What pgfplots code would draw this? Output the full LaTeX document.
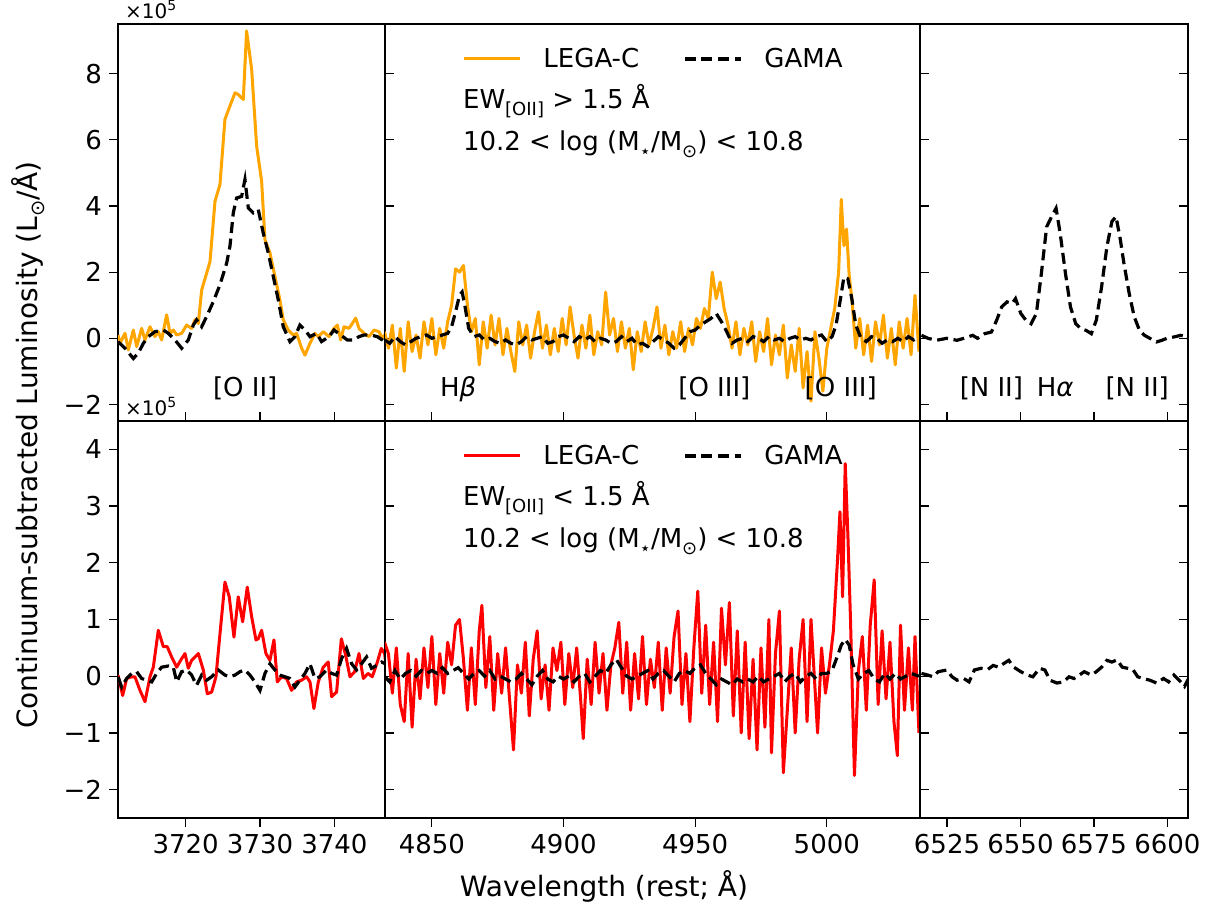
\documentclass[border=0pt]{standalone}
\usepackage{pgfplots}
\pgfplotsset{compat=1.18}
\usepackage{fontspec}
\setmainfont{DejaVu Sans}
\newcommand\f{\fontsize{13pt}{15.6pt}\selectfont}
\newcommand\fl{\fontsize{14pt}{16.8pt}\selectfont}
\newcommand\fs{\fontsize{10pt}{12pt}\selectfont}
\newcommand\sub[1]{\raisebox{-0.28em}{\fontsize{9pt}{10pt}\selectfont #1}}
\newcommand\subl[1]{\raisebox{-0.28em}{\fontsize{9.7pt}{11pt}\selectfont #1}}
\definecolor{mplorange}{HTML}{FFA500}
\pgfplotsset{
  panel/.style={
    scale only axis, anchor=north west, height=198.5pt,
    axis line style={line width=0.6pt},
    every tick/.style={black, line width=0.6pt},
    major tick length=4.5pt,
    tick label style={font=\f},
    /pgf/number format/assume math mode=true,
    /pgf/number format/1000 sep={},
    clip mode=individual,
    legend image code/.code={\draw[##1] (0pt,0pt) -- (28pt,0pt);},
  },
  rowA/.style={ymin=-2.5, ymax=9.5, ytick={-2,0,2,4,6,8},
    xtick pos=left, xtick align=inside, xticklabels={}},
  rowB/.style={ymin=-2.5, ymax=4.5, ytick={-2,-1,0,1,2,3,4},
    xtick pos=left, xtick align=outside},
  colL/.style={xmin=3710.9, xmax=3746.8, xtick={3720,3730,3740}, width=133.5pt,
    ytick pos=left, ytick align=outside},
  colM/.style={xmin=4832.2, xmax=5035.4, xtick={4850,4900,4950,5000}, width=267.5pt,
    ytick pos=left, ytick align=inside, yticklabels={}},
  colR/.style={xmin=6515.8, xmax=6607, xtick={6525,6550,6575,6600}, width=134pt,
    ytick pos=both, ytick align=inside, yticklabels={}},
  lega/.style={mplorange, line width=1.5pt, line join=round},
  legr/.style={red, line width=1.5pt, line join=round},
  gama/.style={black, line width=1.6pt, dash pattern=on 5.5pt off 2.8pt},
  leg/.style={legend style={at={(0.144,0.912)}, anchor=west, draw=none, fill=none,
    font=\f, inner sep=0pt, nodes={inner sep=0pt},
    /tikz/every odd column/.append style={column sep=11pt},
    /tikz/every even column/.append style={column sep=22pt}},
    legend columns=2},
}
\begin{document}
\begin{tikzpicture}
\path[use as bounding box] (0,0) rectangle (602.5pt,-455.5pt);
% ---------------- top left
\begin{axis}[panel, rowA, colL, at={(59pt,-12pt)}, yticklabels={−2,0,2,4,6,8}]
\addplot[lega] coordinates {(3710.9,0.1)(3711.17,-0.15)(3711.84,0.15)(3712.29,-0.35)(3712.96,0.25)(3713.41,-0.25)(3714.08,0.30)(3714.53,-0.05)(3715.20,0.35)(3715.87,0.05)(3716.32,0.20)(3716.77,-0.05)(3717.44,0.71)(3717.89,0.15)(3718.34,0.25)(3718.79,0.10)(3719.46,0.15)(3720.13,0.40)(3720.80,0.30)(3721.25,0.56)(3721.70,0.45)(3722.15,1.46)(3722.82,1.97)(3723.27,2.32)(3723.94,4.14)(3724.61,4.65)(3725.28,6.62)(3725.95,7.02)(3726.63,7.42)(3727.07,7.37)(3727.75,7.22)(3728.19,9.29)(3728.87,8.13)(3729.54,5.81)(3730.21,4.75)(3730.66,2.98)(3731.33,2.58)(3732.00,1.87)(3732.67,1.16)(3733.12,0.56)(3733.79,0.25)(3734.47,0.10)(3734.91,0.15)(3735.59,-0.30)(3736.04,-0.51)(3736.71,-0.15)(3737.38,0.15)(3737.83,0.05)(3738.50,0.20)(3739.27,0.05)(3739.94,0.30)(3740.39,0.40)(3740.84,-0.05)(3741.29,0.35)(3741.96,0.30)(3742.41,0.45)(3742.86,0.61)(3743.30,0.30)(3743.98,0.15)(3744.65,0.05)(3745.32,0.25)(3745.99,0.20)(3746.44,0.00)(3746.93,0.15)};
\addplot[gama] coordinates {(3710.9,-0.10)(3711.84,-0.30)(3712.96,-0.61)(3713.63,-0.45)(3714.31,-0.15)(3714.98,0.05)(3715.87,0.20)(3716.99,0.25)(3717.67,0.15)(3718.56,-0.05)(3719.46,-0.30)(3720.35,-0.05)(3721.03,0.40)(3721.47,0.56)(3722.15,0.35)(3722.82,0.66)(3723.72,1.11)(3724.61,1.62)(3725.51,2.27)(3725.95,2.78)(3726.40,3.79)(3726.85,4.24)(3727.52,4.29)(3727.97,4.80)(3728.42,3.94)(3729.09,3.79)(3729.76,3.89)(3730.43,3.18)(3731.11,2.58)(3731.78,1.87)(3732.45,1.16)(3733.12,0.35)(3734.02,-0.10)(3734.69,0.05)(3735.36,0.40)(3736.04,0.25)(3736.71,0.05)(3737.60,0.15)(3738.27,-0.10)(3739.27,0.05)(3739.94,0.25)(3740.84,0.10)(3741.73,-0.05)(3742.63,-0.05)(3743.30,0.05)(3743.98,0.10)(3744.87,0.10)(3745.77,0.05)(3746.44,-0.05)(3746.93,-0.15)};
\node[font=\f, anchor=base] at (axis cs:3728,-1.75) {[O II]};
\node[font=\fs, anchor=base west, yshift=3pt] at (rel axis cs:0,1) {×10\textsuperscript{5}};
\end{axis}
% ---------------- top middle
\begin{axis}[panel, rowA, colM, leg, at={(192.5pt,-12pt)}]
\addplot[lega] coordinates {(4832.0,0.2)(4833.5,-0.3)(4835.0,0.4)(4836.5,-0.9)(4838.0,0.3)(4839.5,-1.0)(4841.0,0.5)(4842.5,-0.4)(4844.0,0.1)(4845.5,-0.6)(4847.0,0.5)(4848.5,-0.2)(4850.0,0.6)(4851.5,-0.5)(4853.0,0.3)(4854.5,-0.3)(4856.0,0.5)(4857.5,1.0)(4859.0,2.1)(4860.5,2.0)(4862.0,2.2)(4863.5,1.0)(4865.0,0.2)(4866.5,0.6)(4868.0,-0.8)(4869.5,0.5)(4871.0,-0.3)(4872.5,0.7)(4874.0,-0.2)(4875.5,0.6)(4877.0,-0.5)(4878.5,0.3)(4880.0,-0.4)(4881.5,-1.0)(4883.0,0.5)(4884.5,-0.2)(4886.0,0.4)(4887.5,-0.6)(4889.0,0.2)(4890.5,0.8)(4892.0,-0.3)(4893.5,0.4)(4895.0,-0.5)(4896.5,0.3)(4898.0,-0.4)(4899.5,0.6)(4901.0,-0.2)(4902.5,0.95)(4904.0,0.1)(4905.5,-0.6)(4907.0,0.4)(4908.5,-0.3)(4910.0,0.7)(4911.5,-0.5)(4913.0,0.2)(4914.5,-0.2)(4916.0,1.4)(4917.5,0.1)(4919.0,0.6)(4920.5,-0.4)(4922.0,0.5)(4923.5,-0.3)(4925.0,0.3)(4926.5,-0.95)(4928.0,0.2)(4929.5,-0.4)(4931.0,0.5)(4932.5,-0.2)(4934.0,0.3)(4935.5,0.95)(4937.0,-0.3)(4938.5,0.4)(4940.0,-0.5)(4941.5,0.2)(4943.0,-0.3)(4944.5,0.5)(4946.0,-0.4)(4947.5,0.3)(4949.0,-0.2)(4950.5,0.6)(4952.0,0.3)(4953.5,0.9)(4955.0,0.6)(4956.5,2.0)(4958.0,1.2)(4959.5,1.7)(4961.0,0.9)(4962.5,0.4)(4964.0,-0.3)(4965.5,0.5)(4967.0,-0.5)(4968.5,0.3)(4970.0,-0.2)(4971.5,0.5)(4973.0,-0.7)(4974.5,0.2)(4976.0,-0.4)(4977.5,0.6)(4979.0,-0.8)(4980.5,0.1)(4982.0,-0.5)(4983.5,0.4)(4985.0,-1.2)(4986.5,-0.2)(4988.0,-1.0)(4989.5,0.3)(4991.0,-1.5)(4992.5,-0.4)(4994.0,-1.9)(4995.5,0.2)(4997.0,-0.6)(4998.5,-1.6)(5000.0,-0.3)(5001.5,0.3)(5003.0,0.9)(5004.5,2.0)(5005.5,4.2)(5006.5,2.8)(5007.5,3.3)(5008.5,1.9)(5009.5,1.2)(5011.0,-0.3)(5012.5,0.6)(5014.0,-0.5)(5015.5,0.4)(5017.0,-0.7)(5018.5,0.5)(5020.0,-0.2)(5021.5,0.7)(5023.0,-0.6)(5024.5,0.3)(5026.0,-0.8)(5027.5,0.5)(5029.0,-0.3)(5030.5,0.6)(5032.0,-0.5)(5033.5,1.3)(5035.0,-0.4)};
\addlegendentry{LEGA-C}
\addplot[gama] coordinates {(4832,-0.05)(4834,-0.15)(4836,0.05)(4838,-0.1)(4840,-0.2)(4842,-0.1)(4844,0.0)(4846,0.05)(4848,0.1)(4850,0.0)(4852,0.05)(4854,0.1)(4856,0.15)(4857.5,0.35)(4859,0.8)(4860.5,1.3)(4861.5,1.4)(4862.5,1.0)(4864,0.3)(4866,0.05)(4868,0.1)(4870,-0.05)(4872,0.0)(4874,-0.1)(4876,-0.15)(4878,-0.05)(4880,-0.15)(4882,-0.2)(4884,-0.1)(4886,0.05)(4888,-0.05)(4890,0.0)(4892,0.05)(4894,-0.15)(4896,-0.1)(4898,0.05)(4900,0.1)(4902,0.0)(4904,-0.1)(4906,0.05)(4908,-0.05)(4910,0.05)(4912,-0.1)(4914,0.0)(4916,-0.05)(4918,-0.15)(4920,-0.1)(4922,0.05)(4924,-0.1)(4926,0.0)(4928,-0.2)(4930,-0.15)(4932,-0.25)(4934,-0.1)(4936,0.05)(4938,-0.05)(4940,-0.15)(4942,-0.3)(4944,-0.2)(4946,0.0)(4948,0.2)(4950,0.25)(4952,0.4)(4954,0.5)(4956,0.6)(4958,0.75)(4960,0.5)(4962,0.2)(4964,-0.15)(4966,-0.05)(4968,0.0)(4970,-0.1)(4972,0.05)(4974,0.0)(4976,-0.1)(4978,0.05)(4980,-0.05)(4982,0.0)(4984,-0.1)(4986,0.0)(4988,0.05)(4990,-0.05)(4992,0.0)(4994,-0.05)(4996,0.05)(4998,0.1)(5000,-0.1)(5002,0.05)(5003.5,0.4)(5005,1.1)(5006.5,1.85)(5008,1.8)(5009.5,1.2)(5011,0.4)(5013,0.0)(5015,-0.1)(5017,0.05)(5019,0.0)(5021,-0.15)(5023,-0.05)(5025,-0.1)(5027,0.0)(5029,-0.1)(5031,0.05)(5033,-0.05)(5035,0.05)};
\addlegendentry{GAMA}
\node[font=\f, anchor=base west] at (rel axis cs:0.1327,0.788) {EW\sub{[OII]} > 1.5 Å};
\node[font=\f, anchor=base west] at (rel axis cs:0.1327,0.6826) {10.2 < log (M\sub{⋆}/M\sub{⊙}) < 10.8};
\node[font=\f, anchor=base] at (axis cs:4860,-1.75) {H\textit{β}};
\node[font=\f, anchor=base] at (axis cs:4957.3,-1.75) {[O III]};
\node[font=\f, anchor=base] at (axis cs:5005.3,-1.75) {[O III]};
\end{axis}
% ---------------- top right
\begin{axis}[panel, rowA, colR, at={(460pt,-12pt)}]
\addplot[gama] coordinates {(6516.3,0.09)(6518.5,0)(6521.4,-0.06)(6524.9,0)(6528.4,-0.06)(6530.7,0)(6533.7,0.09)(6535.4,0)(6537.8,0.14)(6540.1,0.19)(6541.9,0.55)(6543.6,0.95)(6545.4,1.10)(6547.1,1.05)(6548.3,1.20)(6550.1,0.75)(6551.8,0.55)(6553.6,0.44)(6555.4,0.75)(6557.1,1.96)(6558.9,3.37)(6560.6,3.68)(6562.1,3.93)(6563.5,3.17)(6565.3,1.96)(6567.0,0.95)(6568.8,0.44)(6570.6,0.29)(6572.3,0.24)(6574.1,0.14)(6575.8,0.55)(6577.6,1.56)(6579.4,2.77)(6581.1,3.53)(6582.5,3.68)(6584.0,2.97)(6585.2,2.26)(6587.0,1.35)(6588.7,0.65)(6590.5,0.24)(6592.2,0.09)(6594.0,0)(6596.3,-0.11)(6598.1,-0.06)(6599.8,0)(6602.2,0.04)(6604.5,0.09)(6606.9,0.04)(6607.5,-0.11)};
\node[font=\f, anchor=base] at (axis cs:6540.1,-1.75) {[N II]};
\node[font=\f, anchor=base] at (axis cs:6561.8,-1.75) {H\textit{α}};
\node[font=\f, anchor=base] at (axis cs:6589.7,-1.75) {[N II]};
\end{axis}
% ---------------- bottom left
\begin{axis}[panel, rowB, colL, at={(59pt,-210.5pt)}, yticklabels={−2,−1,0,1,2,3,4}, xticklabels={3720,3730,3740}]
\addplot[legr] coordinates {(3710.90,0.02)(3711.53,-0.34)(3712.06,-0.04)(3712.74,-0.01)(3713.18,-0.01)(3713.86,-0.25)(3714.53,-0.45)(3715.20,-0.01)(3715.65,0.16)(3716.32,0.81)(3717.00,0.52)(3717.53,0.52)(3718.11,0.34)(3718.79,0.16)(3719.46,0.31)(3719.91,0.40)(3720.35,0.14)(3720.80,0.28)(3721.25,0.34)(3721.70,0.40)(3722.37,0.11)(3722.91,-0.31)(3723.49,-0.28)(3724.07,-0.01)(3724.70,0.87)(3725.28,1.66)(3725.86,1.40)(3726.49,0.69)(3727.07,1.40)(3727.66,0.96)(3728.28,1.57)(3728.87,1.05)(3729.45,0.64)(3729.76,0.66)(3730.21,0.81)(3730.79,0.40)(3731.33,0.28)(3731.87,0.64)(3732.32,-0.10)(3732.90,-0.01)(3733.57,-0.04)(3734.24,-0.25)(3734.91,-0.10)(3735.59,-0.07)(3736.26,-0.01)(3736.71,-0.10)(3737.24,-0.57)(3737.83,-0.10)(3738.50,0.16)(3739.17,0.25)(3739.62,-0.36)(3740.29,-0.28)(3740.93,0.66)(3741.51,0.37)(3742.09,-0.01)(3742.72,0.08)(3743.30,0.40)(3743.89,-0.04)(3744.51,0.05)(3745.09,-0.01)(3745.77,0.25)(3746.30,0.49)(3746.75,0.40)(3746.93,0.20)};
\addplot[gama] coordinates {(3710.90,-0.01)(3711.39,-0.19)(3712.06,-0.04)(3712.74,0.05)(3713.41,0.08)(3714.08,-0.04)(3714.75,-0.07)(3715.43,-0.10)(3716.10,0.05)(3716.77,0.16)(3717.67,0.18)(3718.34,0.16)(3718.79,-0.10)(3719.46,0.08)(3720.13,0.11)(3720.80,0.02)(3721.47,-0.16)(3722.15,0.02)(3722.82,-0.07)(3723.49,-0.01)(3724.39,0.11)(3725.28,0.02)(3725.95,-0.01)(3726.63,0.02)(3727.30,0.08)(3727.97,0.11)(3728.64,0.02)(3729.31,-0.10)(3729.99,-0.25)(3730.66,0.05)(3731.33,0.22)(3732.00,0.11)(3732.67,0.02)(3733.35,-0.01)(3734.02,-0.04)(3734.69,-0.19)(3735.36,-0.07)(3736.04,0.05)(3736.71,0.22)(3737.38,-0.04)(3738.05,-0.01)(3738.95,0.11)(3739.62,0.05)(3740.29,0.02)(3740.96,0.31)(3741.63,0.49)(3742.31,0.22)(3742.98,0.11)(3743.65,0.22)(3744.32,0.34)(3744.99,0.14)(3745.67,0.19)(3746.34,0.25)(3746.83,0.22)};
\node[font=\fs, anchor=base west, yshift=3pt] at (rel axis cs:0,1) {×10\textsuperscript{5}};
\end{axis}
% ---------------- bottom middle
\begin{axis}[panel, rowB, colM, leg, at={(192.5pt,-210.5pt)}, xticklabels={4850,4900,4950,5000}]
\addplot[legr] coordinates {(4832,0.6)(4833.5,0.4)(4835,-0.3)(4836.5,0.5)(4838,-0.5)(4839.5,-0.8)(4841,0.4)(4842.5,-0.9)(4844,0.3)(4845.5,-0.4)(4847,0.5)(4848.5,-0.2)(4850,0.7)(4851.5,-0.5)(4853,0.4)(4854.5,-0.3)(4856,0.6)(4857.5,0.2)(4859,0.9)(4860.5,1.0)(4862,0.3)(4863.5,-0.6)(4865,0.5)(4866.5,-0.5)(4868,0.8)(4869,1.25)(4870.5,-0.2)(4872,0.7)(4873.5,-0.6)(4875,0.4)(4876.5,-0.3)(4878,0.5)(4879.5,-0.4)(4881,-1.3)(4882.5,0.2)(4884,-0.3)(4885.5,0.6)(4887,-0.7)(4888.5,0.3)(4890,0.8)(4891.5,-0.4)(4893,0.2)(4894.5,-0.6)(4896,0.5)(4897.5,0.1)(4899,0.6)(4900.5,-0.5)(4902,0.4)(4903.5,-0.2)(4905,0.5)(4906.5,-0.4)(4907.5,-1.1)(4909,0.3)(4910.5,-0.5)(4912,0.6)(4913.5,-0.3)(4915,0.4)(4916.5,-0.6)(4918,0.2)(4919.5,0.5)(4921,0.95)(4922.5,-0.3)(4924,0.6)(4925.5,-0.6)(4927,0.4)(4928.5,-0.4)(4930,0.7)(4931.5,-0.5)(4933,0.3)(4934.5,-0.2)(4936,0.6)(4937.5,-0.6)(4939,0.5)(4940.5,-0.3)(4942,0.7)(4943.5,1.15)(4945,-0.5)(4946.5,0.4)(4948,-0.8)(4949.5,0.5)(4951,1.5)(4952.5,-0.3)(4954,0.9)(4955.5,-0.5)(4957,0.6)(4958.5,-0.8)(4960,1.2)(4961.5,0.2)(4963,1.3)(4964.5,-0.7)(4966,0.8)(4967.5,-1.0)(4969,0.6)(4970.5,-1.1)(4972,0.3)(4973.5,-1.3)(4975,0.5)(4976.5,-0.9)(4978,1.0)(4979,-1.35)(4980.5,0.4)(4982,1.15)(4983.5,-1.7)(4985,-0.6)(4986.5,0.5)(4988,-1.0)(4989.5,0.3)(4991,1.0)(4992.5,-0.8)(4994,1.0)(4995.5,-0.2)(4996.5,-1.0)(4998,0.5)(4999.5,-0.3)(5001,0.2)(5002.5,0.8)(5004,2.0)(5005,2.9)(5006,1.4)(5007,3.75)(5008,2.5)(5009,1.0)(5010.5,-1.75)(5012,0.1)(5013.5,0.7)(5015,-0.6)(5016.5,0.9)(5018,1.7)(5019.5,-0.5)(5021,0.8)(5022.5,-0.4)(5024,0.6)(5025.5,-0.8)(5026.8,-1.4)(5028,0.9)(5029.5,-0.6)(5031,0.5)(5032.5,-0.6)(5033.5,0.7)(5035,-1.0)};
\addlegendentry{LEGA-C}
\addplot[gama] coordinates {(4832,0.0)(4834,-0.1)(4836,0.1)(4838,-0.05)(4840,0.05)(4842,0.1)(4844,0.0)(4846,0.1)(4848,0.05)(4850,0.1)(4852,0.05)(4854,0.15)(4856,0.05)(4858,0.1)(4860,0.15)(4862,0.05)(4864,-0.05)(4866,0.05)(4868,0.1)(4870,0.0)(4872,0.1)(4874,-0.05)(4876,0.0)(4878,-0.05)(4880,-0.1)(4882,-0.05)(4884,0.05)(4886,-0.05)(4888,-0.15)(4890,0.0)(4892,0.1)(4894,-0.05)(4896,-0.1)(4898,0.0)(4900,-0.05)(4902,0.0)(4904,-0.1)(4906,0.0)(4908,0.05)(4910,-0.1)(4912,0.0)(4914,0.1)(4916,0.05)(4918,0.2)(4920,0.3)(4922,0.15)(4924,0.0)(4926,-0.05)(4928,0.0)(4930,0.05)(4932,0.1)(4934,-0.05)(4936,0.05)(4938,0.1)(4940,0.0)(4942,-0.1)(4944,0.05)(4946,0.1)(4948,0.05)(4950,0.15)(4952,0.2)(4954,0.05)(4956,-0.05)(4958,-0.15)(4960,-0.05)(4962,-0.1)(4964,-0.15)(4966,-0.05)(4968,-0.1)(4970,-0.05)(4972,-0.1)(4974,0.0)(4976,-0.1)(4978,-0.05)(4980,0.0)(4982,0.05)(4984,-0.1)(4986,0.0)(4988,0.05)(4990,-0.1)(4992,0.0)(4994,0.05)(4996,-0.05)(4998,0.05)(5000,0.05)(5002,0.1)(5004,0.35)(5005.5,0.55)(5007,0.65)(5008.5,0.55)(5010,0.2)(5012,-0.05)(5014,0.05)(5016,0.1)(5018,-0.05)(5020,-0.1)(5022,0.05)(5024,-0.05)(5026,0.05)(5028,-0.05)(5030,0.0)(5032,0.05)(5035,0.0)};
\addlegendentry{GAMA}
\node[font=\f, anchor=base west] at (rel axis cs:0.1327,0.788) {EW\sub{[OII]} < 1.5 Å};
\node[font=\f, anchor=base west] at (rel axis cs:0.1327,0.6826) {10.2 < log (M\sub{⋆}/M\sub{⊙}) < 10.8};
\end{axis}
% ---------------- bottom right
\begin{axis}[panel, rowB, colR, at={(460pt,-210.5pt)}, xticklabels={6525,6550,6575,6600}]
\addplot[gama] coordinates {(6516.3,0.05)(6518.5,0.02)(6520.2,-0.01)(6522.0,0.08)(6524.9,0.11)(6526.7,-0.01)(6528.4,-0.07)(6530.7,-0.04)(6532.5,-0.10)(6534.3,0.11)(6536.6,0.14)(6538.9,0.12)(6540.7,0.19)(6542.5,0.16)(6544.2,0.22)(6546.0,0.28)(6547.7,0.16)(6550.1,0.08)(6552.4,0.02)(6554.2,-0.01)(6556.5,0.14)(6558.3,0.11)(6560.0,-0.07)(6562.4,-0.12)(6564.7,-0.10)(6566.5,-0.01)(6568.2,-0.04)(6570.0,0.02)(6571.7,0.08)(6574.1,0.02)(6575.8,0.08)(6577.6,0.16)(6579.4,0.28)(6581.1,0.25)(6582.9,0.29)(6584.6,0.16)(6586.4,0.14)(6588.2,0.12)(6589.9,-0.01)(6591.7,-0.04)(6594.0,-0.07)(6596.3,-0.12)(6598.7,-0.04)(6600.4,-0.10)(6602.2,0.02)(6604.0,-0.07)(6605.8,-0.18)(6607.5,-0.01)};
\end{axis}
\node[font=\fl, anchor=base] at (302pt,-448pt) {Wavelength (rest; Å)};
\node[font=\fl, rotate=90, anchor=base] at (18.5pt,-222.5pt) {Continuum-subtracted Luminosity (L\subl{⊙}/Å)};
\end{tikzpicture}
\end{document}
